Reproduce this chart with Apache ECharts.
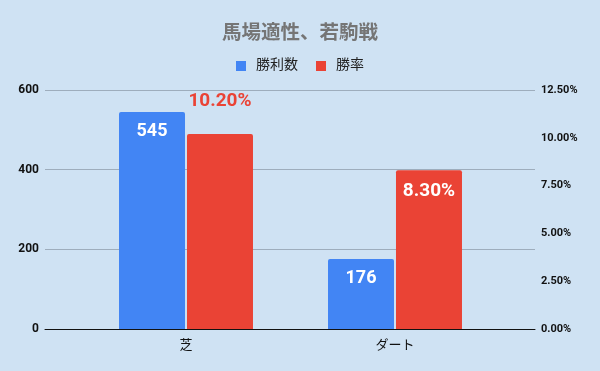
<!DOCTYPE html>
<html>
<head>
<meta charset="utf-8">
<script src="https://cdn.jsdelivr.net/npm/echarts@6/dist/echarts.min.js"></script>
<style>
  html, body { margin: 0; padding: 0; background: #cfe2f3; }
  #chart { width: 600px; height: 371px; }
</style>
</head>
<body>
<div id="chart"></div>
<script>
// Track surface, young-horse races: wins and win rate
const categories = ['芝', 'ダート'];
const wins = [545, 176];
const winRate = [10.2, 8.3];
const seriesNames = ['勝利数', '勝率'];

const FONT = "Roboto, 'Noto Sans CJK JP', sans-serif";
const BLUE = '#4285f4';
const RED = '#ea4335';
const GRID_LINE = '#9eadbc';

const chart = echarts.init(document.getElementById('chart'), null, { renderer: 'canvas' });

const rateLabel = v => v.toFixed(2) + '%';

chart.setOption({
  backgroundColor: '#cfe2f3',
  textStyle: { fontFamily: FONT },
  title: {
    text: '馬場適性、若駒戦',
    left: 'center',
    top: 19,
    textStyle: { fontFamily: FONT, fontSize: 19.5, fontWeight: 'bold', color: '#757575' }
  },
  legend: {
    top: 54,
    left: 'center',
    itemWidth: 10,
    itemHeight: 10,
    itemGap: 18,
    icon: 'rect',
    textStyle: { fontFamily: FONT, fontSize: 14, color: '#222', padding: [0, 0, 0, 5] },
    data: seriesNames
  },
  grid: [
    // outer frame: gridlines, value axes, baseline
    { left: 45, right: 65, top: 90, bottom: 42 },
    // inner frame where the bars sit
    { left: 81.5, right: 100.5, top: 90, bottom: 42 }
  ],
  xAxis: [
    {
      gridIndex: 0, type: 'category', data: ['x'],
      axisLine: { show: true, lineStyle: { color: '#111', width: 1 } },
      axisTick: { show: false }, axisLabel: { show: false }
    },
    {
      gridIndex: 1, type: 'category', data: categories,
      axisLine: { show: false }, axisTick: { show: false },
      axisLabel: { margin: 10, fontFamily: FONT, fontSize: 13, color: '#111' }
    }
  ],
  yAxis: [
    {
      gridIndex: 0, type: 'value', min: 0, max: 600, interval: 200, position: 'left',
      axisLine: { show: false }, axisTick: { show: false },
      axisLabel: { margin: 6, fontFamily: FONT, fontSize: 12, fontWeight: 'bold', color: '#111' },
      splitLine: { show: true, lineStyle: { color: GRID_LINE, width: 1 } }
    },
    {
      gridIndex: 0, type: 'value', min: 0, max: 12.5, interval: 2.5, position: 'right',
      axisLine: { show: false }, axisTick: { show: false },
      axisLabel: { margin: 6, fontFamily: FONT, fontSize: 11, fontWeight: 'bold', color: '#111', formatter: rateLabel },
      splitLine: { show: false }
    },
    { gridIndex: 1, type: 'value', min: 0, max: 600, show: false, splitLine: { show: false } },
    { gridIndex: 1, type: 'value', min: 0, max: 12.5, show: false, splitLine: { show: false } }
  ],
  series: [
    {
      name: seriesNames[0], type: 'bar', xAxisIndex: 1, yAxisIndex: 2,
      barWidth: 66, barGap: '3%',
      itemStyle: { color: BLUE, borderRadius: [2, 2, 0, 0] },
      label: {
        show: true, position: 'insideTop', distance: 11,
        fontFamily: FONT, fontSize: 18, fontWeight: 'bold', color: '#fff'
      },
      data: wins
    },
    {
      name: seriesNames[1], type: 'bar', xAxisIndex: 1, yAxisIndex: 3,
      barWidth: 66,
      itemStyle: { color: RED, borderRadius: [2, 2, 0, 0] },
      label: {
        show: true, position: 'insideTop', distance: 11,
        fontFamily: FONT, fontSize: 19, fontWeight: 'bold', color: '#fff',
        formatter: p => rateLabel(p.value)
      },
      data: winRate.map((v, i) => i === 0
        ? { value: v, label: { position: 'top', distance: 23, color: RED } }
        : v)
    }
  ]
});
</script>
</body>
</html>
